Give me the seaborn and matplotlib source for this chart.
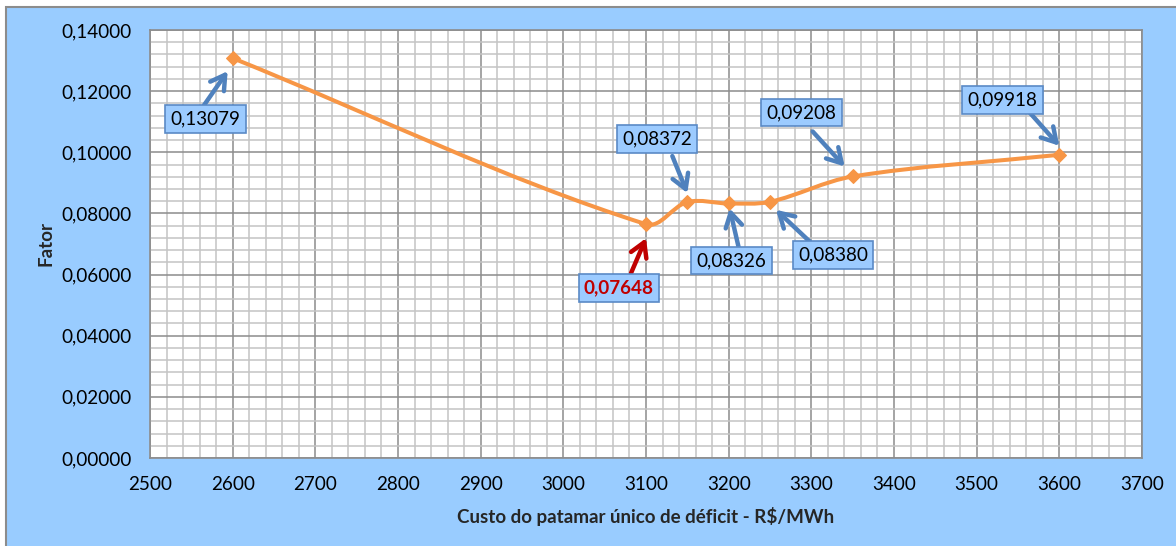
import numpy as np
import pandas as pd
import matplotlib
matplotlib.use("Agg")
import matplotlib.pyplot as plt
import seaborn as sns
from matplotlib.path import Path
from matplotlib.patches import PathPatch, Rectangle
from matplotlib.ticker import MultipleLocator, FixedLocator, FuncFormatter
from matplotlib.transforms import offset_copy

# ---- data -------------------------------------------------------------
custo = [2600, 3100, 3150, 3200, 3250, 3350, 3600]
fator = [0.13079, 0.07648, 0.08372, 0.08326, 0.08380, 0.09208, 0.09918]
x_ticks = [2500, 2600, 2700, 2800, 2900, 3000, 3100, 3200, 3300, 3400, 3500, 3600, 3700]
y_ticks = [0.00, 0.02, 0.04, 0.06, 0.08, 0.10, 0.12, 0.14]
x_label = "Custo do patamar único de déficit - R$/MWh"
y_label = "Fator"

# callout layout in pixels relative to each point (x right, y up)
box_off = [(-27, -61), (-27, -64), (-30, 63), (3, -57), (63, -53), (-51, 64), (-57, 55)]
tail_off = [(-30, -49), (-15, -49), (-15, 46), (10, -44), (40, -40), (-40, 45), (-33, 46)]
head_off = [(-5, -13), (0, -14), (0, 9), (1, -5), (6, -8), (-8, 10), (0, 9)]

df = pd.DataFrame({"custo": custo, "fator": fator})
i_min = int(np.argmin(fator))

# ---- style ------------------------------------------------------------
sns.set_theme(style="white")
plt.rcParams["font.family"] = ["Lato", "DejaVu Sans"]

BG = "#99CCFF"
ORANGE = "#F79646"
BLUE = "#4F81BD"
RED = "#C00000"
W, H = 1176, 546
FS = 13.6

fig = plt.figure(figsize=(W / 100, H / 100), dpi=100, facecolor="white")
fig.patches.append(Rectangle((6 / W, -0.05), 1.2, (H - 7) / H + 0.05,
                             transform=fig.transFigure, facecolor=BG,
                             edgecolor="#8C8C8C", linewidth=1.5, zorder=-10))

left, right, top, bottom = 150, 1142, 30, 458
ax = fig.add_axes([left / W, (H - bottom) / H, (right - left) / W, (bottom - top) / H])
ax.set_facecolor("white")

ax.set_xlim(x_ticks[0], x_ticks[-1])
ax.set_ylim(y_ticks[0], y_ticks[-1])
ax.xaxis.set_major_locator(FixedLocator(x_ticks))
ax.yaxis.set_major_locator(FixedLocator(y_ticks))
ax.xaxis.set_minor_locator(MultipleLocator(20))
ax.yaxis.set_minor_locator(MultipleLocator(0.004))
ax.yaxis.set_major_formatter(FuncFormatter(lambda v, p: f"{v:.5f}".replace(".", ",")))
ax.xaxis.set_major_formatter(FuncFormatter(lambda v, p: f"{v:.0f}"))

ax.grid(which="minor", color="#C4C4C4", linewidth=1.1, zorder=0)
ax.grid(which="major", color="#8C8C8C", linewidth=1.1, zorder=0)
ax.set_axisbelow(True)
for s in ax.spines.values():
    s.set_color("#8C8C8C")
    s.set_linewidth(1.2)
ax.tick_params(which="major", direction="out", length=5, width=1.2, color="#8C8C8C",
               labelsize=FS, labelcolor="black", pad=8)
ax.tick_params(which="minor", length=0)

# ---- smoothed line (bezier through the points) -------------------------
sx = (right - left) / (x_ticks[-1] - x_ticks[0])
sy = (bottom - top) / (y_ticks[-1] - y_ticks[0])
P = np.column_stack([np.asarray(custo, float) * sx, np.asarray(fator, float) * sy])
n = len(P)
tang = []
for i in range(n):
    a = P[max(i - 1, 0)]
    b = P[min(i + 1, n - 1)]
    d = b - a
    tang.append(d / np.linalg.norm(d))
verts = [P[0]]
codes = [Path.MOVETO]
for i in range(n - 1):
    L = np.linalg.norm(P[i + 1] - P[i]) / 3.0
    verts += [P[i] + tang[i] * L, P[i + 1] - tang[i + 1] * L, P[i + 1]]
    codes += [Path.CURVE4] * 3
verts = np.array(verts) / np.array([sx, sy])
ax.add_patch(PathPatch(Path(verts, codes), facecolor="none", edgecolor=ORANGE,
                       linewidth=2.9, capstyle="round", joinstyle="round", zorder=3))

sns.scatterplot(data=df, x="custo", y="fator", marker="D", s=50, color=ORANGE,
                edgecolor=ORANGE, linewidth=0.8, ax=ax, zorder=4, legend=False)

# ---- callouts ------------------------------------------------------------
for i, (xv, yv) in enumerate(zip(custo, fator)):
    txt = f"{yv:.5f}".replace(".", ",")
    is_min = i == i_min
    acol = RED if is_min else BLUE
    ax.annotate(txt, xy=(xv, yv), xytext=box_off[i], textcoords="offset pixels",
                ha="center", va="center", fontsize=FS,
                color=RED if is_min else "black",
                fontweight="bold" if is_min else "normal",
                bbox=dict(boxstyle="square,pad=0.28", facecolor="#9CCBFF",
                          edgecolor="#5A8AC6", linewidth=1.2),
                zorder=6, annotation_clip=False)
    head_tr = offset_copy(ax.transData, fig=fig, x=head_off[i][0], y=head_off[i][1], units="dots")
    ax.annotate("", xy=(xv, yv), xycoords=head_tr,
                xytext=(tail_off[i][0] - head_off[i][0], tail_off[i][1] - head_off[i][1]),
                textcoords="offset pixels",
                arrowprops=dict(arrowstyle="->,head_length=0.85,head_width=0.5",
                                color=acol, linewidth=3.2, mutation_scale=12,
                                shrinkA=0, shrinkB=0),
                zorder=5, annotation_clip=False)

ax.set_xlabel(x_label, fontsize=13.5, fontweight="bold", va="center")
ax.set_ylabel(y_label, fontsize=13.5, fontweight="bold", va="center")
ax.xaxis.set_label_coords(0.5, (bottom - 517) / (bottom - top))
ax.yaxis.set_label_coords((46 - left) / (right - left), 0.5)

fig.savefig("out.png", dpi=100, facecolor="white")
